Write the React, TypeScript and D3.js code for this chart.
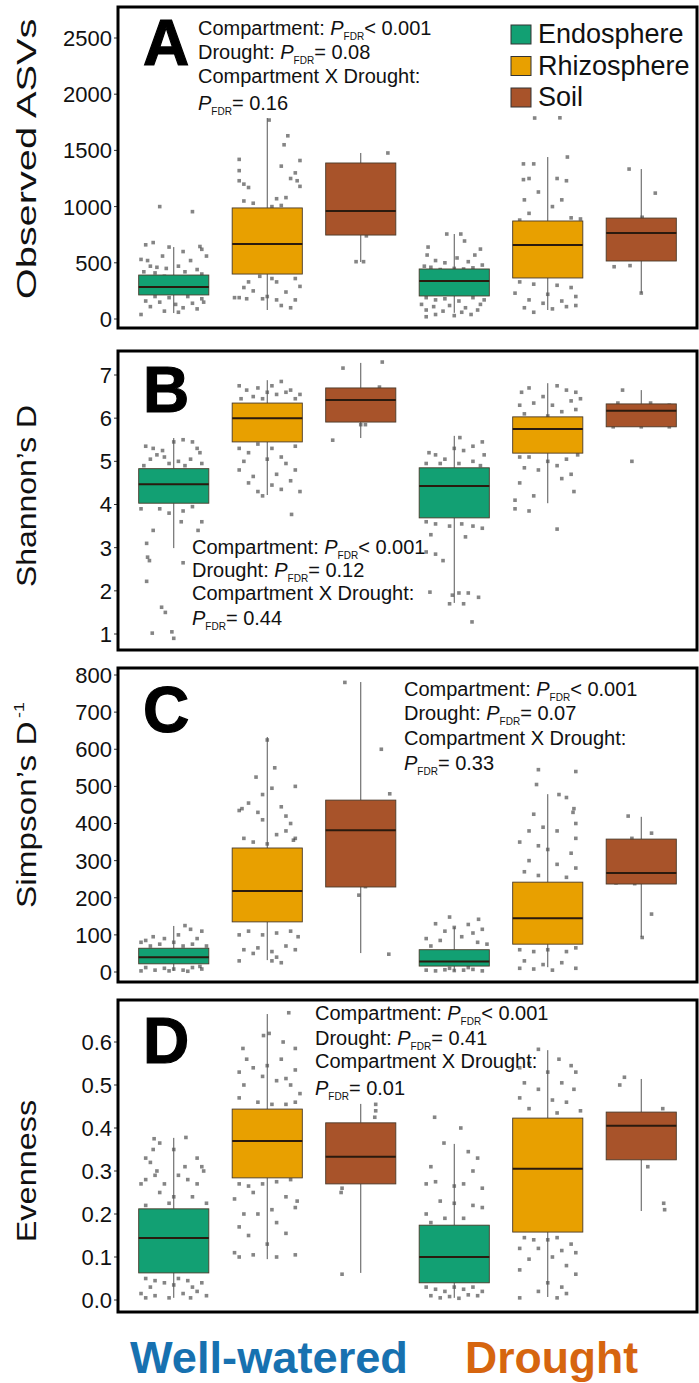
import React from "react";
import * as d3 from "d3";

// groups in plotting order: well-watered then drought
const groupKeys = ["ww-endo", "ww-rhizo", "ww-soil", "dr-endo", "dr-rhizo", "dr-soil"];
const groupCompartment = [0, 1, 2, 0, 1, 2];
const compartments = ["Endosphere", "Rhizosphere", "Soil"];
const compartmentColors = ["#12a073", "#e8a000", "#a8532a"];
const treatments = ["Well-watered", "Drought"];
const treatmentColors = ["#1771b0", "#d6650f"];

// box stats: [whiskerLow, q1, median, q3, whiskerHigh]
const asvStats = [
  [53, 214, 285, 391, 640],
  [80, 400, 667, 988, 1788],
  [507, 747, 961, 1388, 1477],
  [55, 205, 338, 445, 756],
  [80, 365, 658, 872, 1441],
  [231, 516, 765, 898, 1334],
];
const shannonStats = [
  [2.99, 4.03, 4.47, 4.83, 5.54],
  [4.22, 5.45, 6.0, 6.35, 6.88],
  [5.54, 5.91, 6.42, 6.7, 7.28],
  [1.72, 3.69, 4.43, 4.85, 5.59],
  [4.03, 5.19, 5.75, 6.03, 6.81],
  [5.8, 5.8, 6.17, 6.33, 6.65],
];
const simpsonStats = [
  [3, 22, 40, 64, 124],
  [32, 135, 218, 334, 633],
  [51, 229, 382, 463, 781],
  [2, 16, 28, 60, 121],
  [13, 75, 145, 242, 479],
  [94, 237, 267, 358, 418],
];
const evenStats = [
  [0.005, 0.063, 0.144, 0.212, 0.377],
  [0.095, 0.284, 0.37, 0.444, 0.665],
  [0.063, 0.27, 0.333, 0.412, 0.456],
  [0.005, 0.04, 0.1, 0.174, 0.363],
  [0.007, 0.158, 0.305, 0.423, 0.581],
  [0.207, 0.326, 0.405, 0.437, 0.514],
];

// jittered samples: [offset within band (-0.5..0.5), value]
const asvPoints = [
  [[-0.15, 1000], [0.2, 955], [-0.22, 680], [-0.3, 660], [-0.05, 640], [0.28, 645], [0.3, 620], [0.35, 560], [0.1, 600], [-0.35, 530], [-0.28, 520], [-0.12, 560], [0.18, 520], [-0.25, 470], [-0.18, 460], [-0.08, 450], [0.05, 470], [0.25, 440], [-0.32, 420], [-0.2, 410], [0.12, 420], [0.3, 400], [-0.1, 380], [0.22, 360], [-0.27, 330], [0.08, 300], [-0.35, 260], [0.33, 280], [-0.2, 200], [-0.05, 190], [0.15, 200], [0.3, 180], [-0.3, 160], [-0.15, 150], [0.02, 130], [0.2, 140], [0.32, 150], [-0.25, 110], [0.1, 100], [-0.1, 70], [0.25, 90], [-0.35, 40], [0.05, 60]],
  [[0.02, 1770], [0.22, 1630], [0.18, 1550], [-0.3, 1420], [0.35, 1410], [0.15, 1360], [0.3, 1300], [-0.3, 1320], [0.25, 1250], [0.32, 1230], [0.35, 1180], [-0.3, 1230], [-0.25, 1200], [-0.2, 1170], [0.2, 1080], [0.1, 1070], [-0.25, 1050], [-0.15, 1030], [0.15, 1010], [0.05, 1000], [-0.1, 950], [0.3, 900], [-0.3, 800], [0.2, 700], [-0.2, 600], [0.1, 500], [-0.3, 420], [-0.08, 380], [0.05, 360], [0.3, 360], [-0.2, 330], [0.1, 330], [-0.25, 280], [0.35, 290], [-0.15, 250], [0.2, 240], [-0.35, 190], [0.3, 170], [-0.22, 180], [0.0, 200], [0.1, 170], [0.15, 120], [0.25, 100], [-0.3, 190], [-0.05, 180]],
  [[0.29, 1477], [0.06, 740], [-0.05, 510], [0.03, 510], [0.1, 1100], [-0.2, 900], [0.25, 1250]],
  [[-0.08, 756], [0.07, 756], [0.11, 694], [-0.28, 640], [0.28, 622], [0.03, 543], [0.22, 569], [-0.29, 569], [-0.2, 520], [-0.1, 500], [0.15, 510], [0.3, 480], [-0.32, 470], [-0.25, 460], [0.0, 450], [0.2, 455], [-0.15, 440], [0.1, 445], [-0.3, 190], [-0.2, 170], [-0.1, 180], [0.05, 160], [0.2, 190], [0.32, 170], [-0.35, 130], [-0.22, 110], [-0.05, 120], [0.12, 100], [0.28, 130], [-0.3, 80], [-0.12, 70], [0.08, 60], [0.25, 80], [-0.2, 40], [0.0, 30], [0.18, 40], [-0.3, 20]],
  [[-0.14, 1788], [0.13, 1790], [0.21, 1441], [-0.26, 1380], [-0.15, 1380], [-0.26, 1240], [-0.2, 1250], [-0.1, 1130], [0.2, 1230], [0.1, 1250], [0.15, 1060], [-0.25, 1060], [0.05, 1000], [-0.2, 940], [0.25, 900], [0.35, 890], [-0.3, 880], [-0.3, 330], [-0.15, 310], [0.1, 300], [0.25, 280], [-0.35, 230], [0.0, 220], [0.3, 200], [-0.2, 170], [0.15, 160], [-0.05, 140], [0.3, 120], [-0.25, 100], [0.05, 90], [0.2, 110], [-0.15, 60]],
  [[-0.13, 1334], [0.15, 1120], [0.01, 905], [-0.29, 465], [-0.12, 475], [0.0, 231], [0.2, 700], [-0.2, 800]],
];
const shannonPoints = [
  [[-0.22, 3.4], [-0.29, 3.1], [-0.28, 2.78], [-0.26, 2.7], [-0.29, 2.22], [-0.13, 1.62], [-0.09, 1.5], [-0.23, 1.02], [-0.02, 1.05], [0.0, 0.9], [0.26, 3.4], [0.08, 3.6], [0.1, 3.85], [0.3, 3.6], [-0.35, 3.9], [0.2, 3.95], [-0.15, 3.9], [-0.05, 3.8], [0.1, 2.65], [-0.3, 5.35], [-0.22, 5.3], [-0.12, 5.25], [0.0, 5.45], [0.1, 5.5], [0.2, 5.45], [0.28, 5.2], [-0.25, 5.05], [-0.1, 5.1], [0.05, 5.0], [0.18, 5.05], [0.3, 4.95], [-0.32, 4.9], [-0.05, 4.95], [0.12, 4.9], [0.25, 5.3], [-0.18, 5.15]],
  [[-0.3, 6.75], [-0.22, 6.65], [-0.1, 6.7], [0.05, 6.75], [0.15, 6.85], [0.25, 6.65], [0.35, 6.55], [-0.28, 6.45], [-0.15, 6.5], [0.1, 6.55], [0.2, 6.6], [0.3, 6.45], [0.0, 6.6], [-0.05, 6.45], [-0.3, 5.3], [-0.2, 5.2], [-0.1, 5.4], [0.05, 5.3], [0.15, 5.1], [0.3, 5.35], [-0.25, 5.0], [0.0, 5.05], [0.2, 4.95], [-0.3, 4.8], [-0.15, 4.65], [0.1, 4.7], [0.3, 4.8], [-0.2, 4.5], [0.05, 4.45], [0.25, 4.55], [-0.1, 4.3], [0.15, 4.35], [-0.05, 4.2], [0.35, 4.3], [0.26, 3.77]],
  [[-0.19, 7.16], [0.23, 7.3], [-0.3, 5.49], [0.2, 6.72], [0.0, 5.85], [0.05, 5.85]],
  [[0.06, 5.55], [-0.27, 5.2], [-0.2, 5.15], [-0.1, 5.05], [0.0, 5.3], [0.1, 5.25], [0.2, 5.35], [0.3, 5.45], [0.32, 5.15], [-0.3, 4.95], [-0.15, 4.95], [0.05, 4.95], [0.2, 5.0], [0.28, 4.9], [-0.3, 3.6], [-0.2, 3.55], [-0.05, 3.5], [0.08, 3.55], [0.2, 3.5], [0.3, 3.45], [-0.25, 3.3], [0.12, 3.25], [-0.3, 2.9], [-0.2, 2.85], [-0.12, 2.7], [-0.26, 1.97], [-0.02, 1.9], [0.05, 1.95], [0.15, 1.95], [0.26, 1.85], [-0.05, 1.7], [0.1, 1.7], [0.19, 1.28]],
  [[-0.28, 6.6], [-0.2, 6.7], [-0.05, 6.5], [0.1, 6.75], [0.2, 6.65], [0.3, 6.6], [0.35, 6.45], [-0.3, 6.3], [-0.15, 6.35], [0.05, 6.3], [0.25, 6.4], [-0.25, 6.1], [0.15, 6.15], [0.3, 6.2], [0.0, 6.05], [-0.3, 5.1], [-0.2, 5.1], [0.0, 5.0], [0.2, 5.05], [0.32, 5.15], [-0.25, 4.85], [-0.1, 4.8], [0.1, 4.9], [0.25, 4.7], [-0.3, 4.5], [0.15, 4.6], [0.28, 4.3], [-0.35, 4.1], [-0.15, 4.2], [-0.35, 3.9], [-0.2, 3.85], [0.1, 3.43]],
  [[-0.2, 6.65], [0.1, 6.35], [0.3, 6.3], [-0.25, 6.35], [0.0, 5.8], [0.3, 5.8], [-0.3, 5.8], [-0.1, 5.0]],
];
const simpsonPoints = [
  [[-0.3, 85], [-0.22, 95], [-0.1, 90], [0.05, 100], [0.12, 125], [0.18, 115], [0.3, 110], [-0.35, 80], [-0.15, 75], [0.0, 80], [0.2, 75], [0.25, 90], [-0.25, 70], [0.1, 70], [0.35, 70], [-0.3, 12], [-0.2, 5], [-0.1, 10], [0.0, 8], [0.1, 5], [0.2, 12], [0.3, 8], [-0.35, 3], [0.15, 2], [-0.05, 3], [0.28, 15]],
  [[0.0, 625], [0.08, 550], [-0.12, 525], [0.3, 500], [0.05, 495], [-0.05, 478], [-0.27, 440], [-0.2, 455], [0.15, 445], [-0.1, 430], [0.3, 360], [0.2, 380], [-0.25, 360], [-0.15, 350], [0.0, 345], [0.1, 370], [0.25, 400], [-0.3, 435], [0.28, 355], [-0.05, 410], [0.2, 420], [-0.3, 100], [-0.2, 110], [-0.05, 100], [0.1, 105], [0.25, 110], [0.33, 95], [-0.25, 60], [-0.1, 65], [0.05, 55], [0.2, 70], [0.3, 60], [-0.3, 30], [-0.15, 50], [0.05, 30], [0.15, 25], [0.1, 40]],
  [[-0.17, 780], [0.22, 600], [0.31, 480], [0.05, 230], [-0.02, 207], [0.3, 48], [0.15, 350], [-0.2, 400]],
  [[-0.05, 148], [0.26, 142], [-0.2, 130], [0.15, 128], [0.0, 120], [-0.1, 110], [0.3, 115], [0.2, 105], [-0.3, 90], [-0.15, 85], [0.08, 95], [0.25, 80], [-0.25, 70], [0.35, 75], [-0.3, 5], [-0.2, 3], [-0.1, 6], [0.0, 4], [0.1, 5], [0.2, 7], [0.3, 3], [-0.05, 10], [0.15, 12]],
  [[-0.1, 545], [0.3, 540], [-0.12, 505], [0.12, 478], [0.2, 470], [0.28, 440], [0.27, 430], [-0.15, 425], [0.3, 400], [-0.2, 380], [-0.05, 390], [0.1, 380], [0.3, 360], [-0.3, 350], [-0.1, 340], [0.0, 330], [0.25, 320], [-0.2, 300], [0.1, 290], [-0.25, 270], [0.3, 280], [-0.1, 260], [0.2, 255], [-0.3, 60], [-0.15, 55], [0.0, 60], [0.2, 55], [0.3, 65], [-0.25, 30], [-0.05, 20], [0.15, 25], [0.3, 10], [-0.3, 10], [0.05, 5], [-0.15, 8]],
  [[-0.14, 420], [0.11, 374], [-0.1, 360], [-0.27, 240], [-0.07, 238], [0.11, 156], [0.01, 93]],
];
const evenPoints = [
  [[-0.21, 0.375], [0.13, 0.378], [-0.15, 0.365], [-0.22, 0.35], [0.0, 0.35], [0.25, 0.33], [-0.3, 0.33], [-0.25, 0.32], [-0.18, 0.3], [0.12, 0.31], [0.3, 0.31], [-0.3, 0.28], [-0.2, 0.29], [-0.1, 0.27], [0.05, 0.29], [0.15, 0.28], [0.25, 0.27], [-0.35, 0.27], [0.32, 0.3], [-0.15, 0.25], [0.0, 0.24], [0.2, 0.24], [-0.3, 0.22], [-0.05, 0.225], [0.35, 0.225], [-0.3, 0.05], [-0.2, 0.045], [-0.1, 0.04], [0.05, 0.05], [0.15, 0.045], [0.3, 0.04], [-0.25, 0.03], [0.0, 0.035], [0.2, 0.03], [-0.35, 0.015], [-0.2, 0.01], [-0.05, 0.005], [0.1, 0.015], [0.25, 0.02], [0.35, 0.01], [-0.3, 0.005], [0.18, 0.005]],
  [[0.23, 0.668], [-0.04, 0.615], [0.02, 0.62], [0.17, 0.6], [-0.26, 0.585], [0.3, 0.585], [-0.22, 0.56], [0.15, 0.56], [0.0, 0.545], [-0.3, 0.53], [-0.15, 0.54], [0.3, 0.535], [-0.05, 0.52], [0.2, 0.515], [0.1, 0.51], [-0.25, 0.5], [0.25, 0.5], [-0.3, 0.47], [0.35, 0.48], [0.3, 0.46], [-0.1, 0.46], [0.05, 0.455], [0.2, 0.455], [-0.3, 0.27], [-0.2, 0.265], [-0.05, 0.27], [0.1, 0.275], [0.25, 0.28], [-0.35, 0.235], [-0.15, 0.25], [0.2, 0.24], [0.32, 0.23], [-0.25, 0.2], [0.05, 0.21], [0.3, 0.215], [-0.3, 0.17], [-0.1, 0.2], [0.1, 0.18], [-0.2, 0.15], [0.0, 0.13], [0.2, 0.155], [-0.3, 0.1], [-0.15, 0.105], [0.1, 0.1], [0.3, 0.105], [-0.35, 0.11]],
  [[0.16, 0.455], [0.16, 0.44], [0.15, 0.425], [-0.21, 0.25], [-0.2, 0.26], [-0.2, 0.06], [0.05, 0.3], [0.2, 0.35]],
  [[-0.21, 0.425], [0.07, 0.4], [-0.11, 0.365], [0.15, 0.345], [0.25, 0.33], [-0.25, 0.31], [0.2, 0.3], [-0.3, 0.27], [-0.2, 0.275], [0.0, 0.265], [0.1, 0.27], [0.3, 0.26], [-0.15, 0.23], [0.0, 0.225], [0.2, 0.22], [0.3, 0.215], [-0.3, 0.2], [-0.1, 0.19], [0.1, 0.19], [-0.25, 0.18], [-0.3, 0.03], [-0.2, 0.025], [-0.1, 0.02], [0.0, 0.03], [0.1, 0.025], [0.2, 0.03], [0.3, 0.02], [-0.25, 0.01], [-0.05, 0.008], [0.15, 0.012], [0.25, 0.01], [-0.15, 0.005], [0.05, 0.004]],
  [[-0.1, 0.583], [0.12, 0.56], [0.25, 0.545], [-0.2, 0.55], [-0.3, 0.54], [0.3, 0.53], [0.0, 0.53], [-0.25, 0.505], [0.15, 0.505], [0.28, 0.49], [-0.1, 0.49], [-0.3, 0.47], [0.05, 0.465], [0.2, 0.46], [-0.2, 0.445], [0.35, 0.44], [0.1, 0.435], [-0.25, 0.145], [-0.15, 0.14], [0.0, 0.14], [0.1, 0.145], [0.25, 0.13], [-0.3, 0.12], [-0.1, 0.12], [0.15, 0.115], [0.3, 0.11], [-0.2, 0.095], [0.05, 0.1], [-0.3, 0.07], [0.2, 0.08], [0.3, 0.06], [0.0, 0.04], [0.15, 0.03], [-0.1, 0.02], [0.2, 0.015], [-0.3, 0.005], [0.1, 0.005]],
  [[-0.18, 0.518], [-0.23, 0.5], [0.23, 0.445], [0.07, 0.31], [0.24, 0.225], [0.25, 0.21], [0.1, 0.4], [-0.1, 0.35]],
];

const asvTicks = [0, 500, 1000, 1500, 2000, 2500];
const shannonTicks = [1, 2, 3, 4, 5, 6, 7];
const simpsonTicks = [0, 100, 200, 300, 400, 500, 600, 700, 800];
const evenTicks = [0, 0.1, 0.2, 0.3, 0.4, 0.5, 0.6];

// significance notes: compartment, drought, interaction
const asvNote = ["< 0.001", "= 0.08", "= 0.16"];
const shannonNote = ["< 0.001", "= 0.12", "= 0.44"];
const simpsonNote = ["< 0.001", "= 0.07", "= 0.33"];
const evenNote = ["< 0.001", "= 0.41", "= 0.01"];

const W = 699;
const H = 1383;
const frameL = 118;
const frameR = 697;
const FONT = "'Liberation Sans', Arial, Helvetica, sans-serif";

const panels = [
  { letter: "A", title: "Observed ASVs", sup: "", titleScale: 1.42, titleY: 159, top: 7, bottom: 328, domain: [0, 2500], range: [319, 38], ticks: asvTicks, fmt: d3.format("d"), stats: asvStats, points: asvPoints, note: asvNote, noteX: 198, noteY: [35, 59, 83, 110], letterY: 65, legend: true },
  { letter: "B", title: "Shannon\u2019s D", sup: "", titleScale: 1.14, titleY: 496, top: 351, bottom: 650, domain: [1, 7], range: [634, 375], ticks: shannonTicks, fmt: d3.format("d"), stats: shannonStats, points: shannonPoints, note: shannonNote, noteX: 192, noteY: [554, 577, 600, 625], letterY: 412, legend: false },
  { letter: "C", title: "Simpson\u2019s D", sup: "-1", titleScale: 1.19, titleY: 805, top: 668, bottom: 982, domain: [0, 800], range: [972, 675], ticks: simpsonTicks, fmt: d3.format("d"), stats: simpsonStats, points: simpsonPoints, note: simpsonNote, noteX: 404, noteY: [696, 720, 745, 770], letterY: 732, legend: false },
  { letter: "D", title: "Evenness", sup: "", titleScale: 1.16, titleY: 1171, top: 1000, bottom: 1312, domain: [0, 0.6], range: [1300, 1042], ticks: evenTicks, fmt: d3.format(".1f"), stats: evenStats, points: evenPoints, note: evenNote, noteX: 315, noteY: [1020, 1045, 1068, 1095], letterY: 1063, legend: false },
];

const x = d3.scaleBand<string>().domain(groupKeys).range([127, 688]).padding(0);
const boxW = x.bandwidth() * 0.75;

function PValue({ value }: { value: string }) {
  return (
    <>
      <tspan fontStyle="italic">P</tspan>
      <tspan fontSize={10} dy={5}>FDR</tspan>
      <tspan dy={-5}>{value}</tspan>
    </>
  );
}

function Panel({ p }: { p: any }) {
  const y = d3.scaleLinear().domain(p.domain).range(p.range);
  return (
    <g>
      {/* jittered points sit underneath the boxes */}
      {p.points.map((grp: number[][], gi: number) =>
        grp.map((d, i) => (
          <rect key={`${gi}-${i}`} x={x(groupKeys[gi])! + x.bandwidth() / 2 + d[0] * x.bandwidth() - 1.8} y={y(d[1]) - 1.8}
            width={3.6} height={3.6} fill="#333" opacity={0.6} />
        ))
      )}
      {p.stats.map((s: number[], gi: number) => {
        const cx = x(groupKeys[gi])! + x.bandwidth() / 2;
        return (
          <g key={gi}>
            <line x1={cx} x2={cx} y1={y(s[4])} y2={y(s[3])} stroke="#555" strokeWidth={1} />
            <line x1={cx} x2={cx} y1={y(s[1])} y2={y(s[0])} stroke="#555" strokeWidth={1} />
            <rect x={cx - boxW / 2} y={y(s[3])} width={boxW} height={y(s[1]) - y(s[3])}
              fill={compartmentColors[groupCompartment[gi]]} stroke="#4a3a2a" strokeWidth={0.9} />
            <line x1={cx - boxW / 2} x2={cx + boxW / 2} y1={y(s[2])} y2={y(s[2])} stroke="#2a1a0e" strokeWidth={2} />
          </g>
        );
      })}
      {p.ticks.map((t: number) => (
        <g key={t}>
          <line x1={frameL - 4} x2={frameL} y1={y(t)} y2={y(t)} stroke="#333" strokeWidth={1} />
          <text x={frameL - 6} y={y(t)} dy="0.36em" textAnchor="end" fontSize={22} fill="#111">{p.fmt(t)}</text>
        </g>
      ))}
      <text transform={`translate(36,${p.titleY}) rotate(-90) scale(${p.titleScale},1)`} textAnchor="middle" fontSize={28} fill="#111">
        {p.title}
        {p.sup && <tspan fontSize={15} dy={-12} dx={3}>{p.sup}</tspan>}
      </text>
      <text x={143} y={p.letterY} fontSize={64} fontWeight="bold" fill="#000" stroke="#000" strokeWidth={1.2}>{p.letter}</text>
      <g fontSize={20} fill="#111">
        <text x={p.noteX} y={p.noteY[0]}>Compartment: <PValue value={p.note[0]} /></text>
        <text x={p.noteX} y={p.noteY[1]}>Drought: <PValue value={p.note[1]} /></text>
        <text x={p.noteX} y={p.noteY[2]}>Compartment X Drought:</text>
        <text x={p.noteX} y={p.noteY[3]}><PValue value={p.note[2]} /></text>
      </g>
      {p.legend && compartments.map((c, i) => (
        <g key={c}>
          <rect x={511} y={25 + i * 31.5} width={20} height={19} fill={compartmentColors[i]} stroke="#333" strokeWidth={1} />
          <text x={538} y={43 + i * 31.5} fontSize={27} fill="#111">{c}</text>
        </g>
      ))}
      <rect x={frameL} y={p.top} width={frameR - frameL} height={p.bottom - p.top} fill="none" stroke="#000" strokeWidth={3} />
    </g>
  );
}

export default function App() {
  return (
    <svg width={W} height={H} style={{ position: "absolute", left: 0, top: 0, background: "#fff" }} fontFamily={FONT}>
      {panels.map((p) => <Panel key={p.letter} p={p} />)}
      <text x={130} y={1373} fontSize={44} fontWeight="bold" fill={treatmentColors[0]} textLength={278} lengthAdjust="spacingAndGlyphs">{treatments[0]}</text>
      <text x={465} y={1373} fontSize={44} fontWeight="bold" fill={treatmentColors[1]} textLength={173} lengthAdjust="spacingAndGlyphs">{treatments[1]}</text>
    </svg>
  );
}
